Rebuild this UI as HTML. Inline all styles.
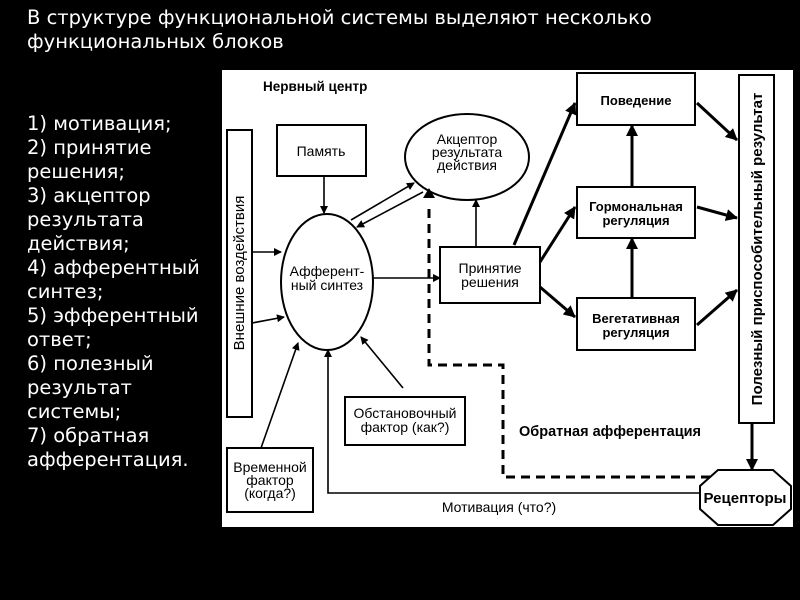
<!DOCTYPE html>
<html><head><meta charset="utf-8"><style>
body{margin:0;width:800px;height:600px;background:#000;overflow:hidden;position:relative;font-family:"DejaVu Sans","Liberation Sans",sans-serif;}
.t{position:absolute;color:#fff;font-size:19.5px;line-height:24px;white-space:nowrap;}
</style></head><body>
<div class="t" style="left:27px;top:6px;">В структуре функциональной системы выделяют несколько<br>функциональных блоков</div>
<div class="t" style="left:27px;top:112px;">1) мотивация;<br>2) принятие<br>решения;<br>3) акцептор<br>результата<br>действия;<br>4) афферентный<br>синтез;<br>5) эфферентный<br>ответ;<br>6) полезный<br>результат<br>системы;<br>7) обратная<br>афферентация.</div>
<svg style="position:absolute;left:0;top:0" width="800" height="600" font-family="Liberation Sans, DejaVu Sans, sans-serif">
<defs>
<marker id="a" markerWidth="8" markerHeight="8" refX="7" refY="4" orient="auto" markerUnits="userSpaceOnUse"><path d="M0,0 L8,4 L0,8 z" fill="#000"/></marker>
<marker id="b" markerWidth="12" markerHeight="12" refX="11" refY="6" orient="auto" markerUnits="userSpaceOnUse"><path d="M0,0 L12,6 L0,12 z" fill="#000"/></marker>
</defs>
<rect x="222" y="70" width="571" height="457" fill="#fff"/>
<g fill="none" stroke="#000" stroke-width="2">
<rect x="227" y="130" width="25" height="287"/>
<rect x="277" y="125" width="89" height="51"/>
<ellipse cx="467" cy="157" rx="62" ry="43"/>
<ellipse cx="327" cy="282" rx="46" ry="68"/>
<rect x="440" y="247" width="100" height="56"/>
<rect x="577" y="73" width="118" height="52"/>
<rect x="577" y="187" width="118" height="51"/>
<rect x="577" y="298" width="118" height="52"/>
<rect x="739" y="75" width="35" height="348"/>
<rect x="345" y="397" width="120" height="48"/>
<rect x="227" y="448" width="86" height="64"/>
<polygon points="718,470 773,470 791,486 791,509 773,525 718,525 700,509 700,486"/>
</g>
<g stroke="#000" stroke-width="1.6" fill="none" marker-end="url(#a)">
<line x1="252" y1="252" x2="281" y2="252"/>
<line x1="252" y1="323" x2="284" y2="317"/>
<line x1="324" y1="176" x2="324" y2="213"/>
<line x1="351" y1="220" x2="414" y2="183"/>
<line x1="423" y1="192" x2="357" y2="227"/>
<line x1="373" y1="278" x2="440" y2="278"/>
<line x1="476" y1="247" x2="476" y2="200"/>
<line x1="403" y1="388" x2="361" y2="337"/>
<line x1="261" y1="448" x2="298" y2="343"/>
<polyline points="700,493 328,493 328,350"/>
</g>
<g stroke="#000" stroke-width="3" fill="none" marker-end="url(#b)">
<line x1="514" y1="245" x2="575" y2="103"/>
<line x1="540" y1="262" x2="575" y2="207"/>
<line x1="540" y1="287" x2="575" y2="317"/>
<line x1="632" y1="298" x2="632" y2="238"/>
<line x1="632" y1="187" x2="632" y2="125"/>
<line x1="697" y1="103" x2="737" y2="140"/>
<line x1="697" y1="207" x2="737" y2="218"/>
<line x1="697" y1="325" x2="737" y2="290"/>
<line x1="752" y1="423" x2="752" y2="470"/>
</g>
<polyline points="710,477 503,477 503,365 429,365 429,205" fill="none" stroke="#000" stroke-width="3" stroke-dasharray="9,6"/>
<path d="M423,198 L429,188 L435,198 z" fill="#000"/>
<g fill="#000" font-size="14" text-anchor="middle">
<text x="263" y="91" text-anchor="start" font-weight="bold" font-size="13.5">Нервный центр</text>
<text x="321" y="156">Память</text>
<text x="467" y="144">Акцептор</text><text x="467" y="157">результата</text><text x="467" y="170">действия</text>
<text x="327" y="276">Афферент-</text><text x="327" y="290">ный синтез</text>
<text x="490" y="273">Принятие</text><text x="490" y="287">решения</text>
<text x="636" y="105" font-weight="bold" font-size="13">Поведение</text>
<text x="636" y="211" font-weight="bold" font-size="13">Гормональная</text><text x="636" y="225" font-weight="bold" font-size="13">регуляция</text>
<text x="636" y="323" font-weight="bold" font-size="13">Вегетативная</text><text x="636" y="337" font-weight="bold" font-size="13">регуляция</text>
<text x="405" y="418">Обстановочный</text><text x="405" y="432">фактор (как?)</text>
<text x="270" y="472">Временной</text><text x="270" y="485">фактор</text><text x="270" y="498">(когда?)</text>
<text x="745" y="503" font-weight="bold" font-size="15">Рецепторы</text>
<text x="499" y="512">Мотивация (что?)</text>
<text x="519" y="436" text-anchor="start" font-weight="bold" font-size="14.5">Обратная афферентация</text>
<text transform="translate(244,273) rotate(-90)" font-size="15">Внешние воздействия</text>
<text transform="translate(762,249) rotate(-90)" font-weight="bold" font-size="15">Полезный приспособительный результат</text>
</g>
</svg>
</body></html>
